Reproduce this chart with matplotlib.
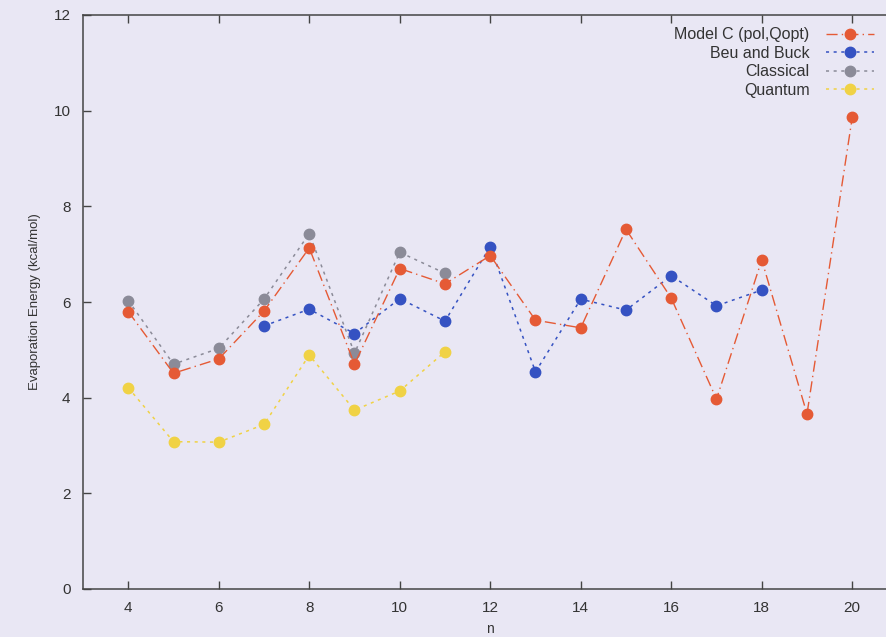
import numpy as np
import matplotlib
matplotlib.use('Agg')
from matplotlib import pyplot as plt

plt.rcParams['font.family'] = ['Liberation Sans', 'DejaVu Sans']

# cluster size n
n_model = [4, 5, 6, 7, 8, 9, 10, 11, 12, 13, 14, 15, 16, 17, 18, 19, 20]
model_c = [5.80, 4.51, 4.81, 5.81, 7.13, 4.70, 6.70, 6.38, 6.97, 5.62, 5.46, 7.52, 6.08, 3.97, 6.88, 3.66, 9.86]

n_beu = [7, 8, 9, 10, 11, 12, 13, 14, 15, 16, 17, 18]
beu_buck = [5.50, 5.85, 5.34, 6.07, 5.60, 7.16, 4.54, 6.06, 5.83, 6.55, 5.92, 6.25]

n_small = [4, 5, 6, 7, 8, 9, 10, 11]
classical = [6.03, 4.70, 5.03, 6.06, 7.43, 4.93, 7.04, 6.60]
quantum = [4.21, 3.08, 3.07, 3.44, 4.89, 3.74, 4.14, 4.96]

xticks = [4, 6, 8, 10, 12, 14, 16, 18, 20]
yticks = [0, 2, 4, 6, 8, 10, 12]

bg = '#e9e7f4'
fig = plt.figure(figsize=(8.87, 6.37), dpi=100, facecolor=bg)
# axes runs off the right edge, like the scanned page
ax = fig.add_axes([83/887, 48/637, 814.5/887, 574/637], facecolor=bg)

ax.plot(n_model, model_c, color='#e55a35', ls=(0, (8, 3, 1, 3)), lw=1.0,
        marker='o', ms=7.5, mec='#e55a35', label='Model C (pol,Qopt)', zorder=5)
ax.plot(n_beu, beu_buck, color='#3552c2', ls=(0, (2, 3)), lw=1.1,
        marker='o', ms=7.5, label='Beu and Buck', zorder=4)
ax.plot(n_small, classical, color='#8b8b98', ls=(0, (2, 3)), lw=1.1,
        marker='o', ms=7.5, label='Classical', zorder=3)
ax.plot(n_small, quantum, color='#f0d245', ls=(0, (2, 3)), lw=1.1,
        marker='o', ms=7.5, label='Quantum', zorder=3)

ax.set_xlim(3, 21)
ax.set_ylim(0, 12)
ax.set_xticks(xticks)
ax.set_yticks(yticks)
ax.tick_params(direction='in', length=6, width=1, colors='#444444',
               labelsize=11, labelcolor='#333333', top=True, pad=9)
for s in ax.spines.values():
    s.set_color('#444444')
    s.set_linewidth(1.1)

ax.set_xlabel('n', fontsize=10, color='#333333', labelpad=5)
ax.set_ylabel('Evaporation Energy (kcal/mol)', fontsize=9.5, color='#333333', labelpad=9)

leg = ax.legend(loc='upper right', bbox_to_anchor=(888/887, 1 - 13/637),
                bbox_transform=fig.transFigure, frameon=False, markerfirst=False,
                fontsize=11.5, handlelength=3.0, labelspacing=0.22, handletextpad=1.0)
for t in leg.get_texts():
    t.set_color('#333333')
    t.set_ha('right')

fig.savefig('out.png', dpi=100, facecolor=bg)
